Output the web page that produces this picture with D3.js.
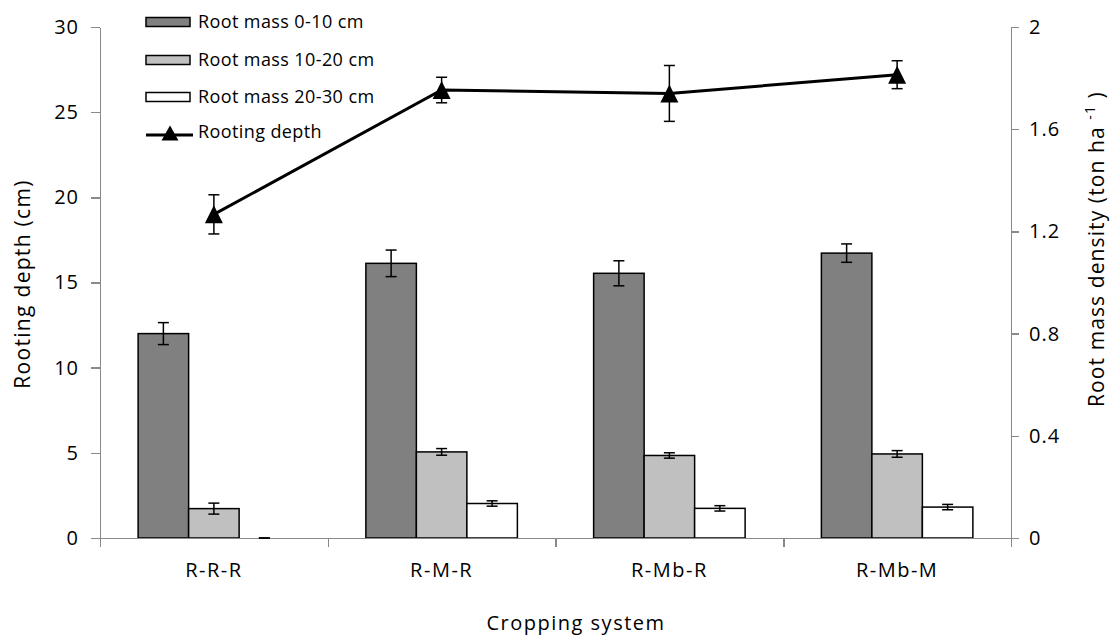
<!DOCTYPE html>
<html>
<head>
<meta charset="utf-8">
<script src="https://cdn.jsdelivr.net/npm/d3@7"></script>
<style>
  html, body { margin: 0; padding: 0; background: #fff; }
  svg { display: block; font-family: "Open Sans", sans-serif; }
  .axis path, .axis line { stroke: #898989; stroke-width: 1.5px; shape-rendering: crispEdges; }
  .axis text { fill: #000; font-size: 20px; font-family: "Open Sans", sans-serif; }
</style>
</head>
<body>
<svg id="chart" width="1112" height="636"></svg>
<script>
// Cropping systems on the x axis
const categories = ["R-R-R", "R-M-R", "R-Mb-R", "R-Mb-M"];

// Root mass density by soil layer (ton ha-1), right axis, with error bars
const rootMass0to10 = [0.80, 1.075, 1.036, 1.115];
const rootMass0to10Err = [0.043, 0.052, 0.049, 0.036];
const rootMass10to20 = [0.115, 0.337, 0.323, 0.329];
const rootMass10to20Err = [0.0215, 0.013, 0.0105, 0.013];
const rootMass20to30 = [0, 0.135, 0.116, 0.121];
const rootMass20to30Err = [0, 0.0105, 0.0105, 0.0105];

// Rooting depth (cm), left axis, with error bars
const rootingDepth = [19.0, 26.3, 26.1, 27.2];
const rootingDepthErr = [1.15, 0.75, 1.64, 0.82];

// Axis ticks
const leftTicks = [0, 5, 10, 15, 20, 25, 30];
const rightTicks = [0, 0.4, 0.8, 1.2, 1.6, 2];

const seriesNames = ["Root mass 0-10 cm", "Root mass 10-20 cm", "Root mass 20-30 cm"];
const seriesValues = [rootMass0to10, rootMass10to20, rootMass20to30];
const seriesErrors = [rootMass0to10Err, rootMass10to20Err, rootMass20to30Err];
const seriesFills = ["#808080", "#c0c0c0", "#ffffff"];

const svg = d3.select("#chart");
const plotLeft = 100, plotRight = 1011, plotTop = 27, plotBottom = 538;

const x = d3.scaleBand().domain(categories).range([plotLeft, plotRight]).padding(0);
const xBound = d3.scaleLinear().domain([0, categories.length]).range([plotLeft, plotRight]);
const xInner = d3.scaleBand().domain(seriesNames).range([0, x.bandwidth()])
  .paddingInner(0).paddingOuter(0.755);
const yL = d3.scaleLinear().domain([0, 30]).range([plotBottom, plotTop]);
const yR = d3.scaleLinear().domain([0, 2]).range([plotBottom, plotTop]);

// Bars with error bars (right axis)
const barRows = [];
categories.forEach((c, i) => {
  seriesNames.forEach((s, k) => {
    barRows.push({ cat: c, series: s, value: seriesValues[k][i], err: seriesErrors[k][i], fill: seriesFills[k] });
  });
});

const bars = svg.append("g");
bars.selectAll("rect").data(barRows.filter(d => d.value > 0)).join("rect")
  .attr("x", d => x(d.cat) + xInner(d.series))
  .attr("y", d => yR(d.value))
  .attr("width", xInner.bandwidth())
  .attr("height", d => yR(0) - yR(d.value))
  .attr("fill", d => d.fill)
  .attr("stroke", "#000")
  .attr("stroke-width", 1.5);

// Axes
svg.append("g").attr("class", "axis").attr("transform", `translate(0,${plotBottom})`)
  .call(d3.axisBottom(xBound).tickValues(d3.range(categories.length + 1)).tickSize(9).tickSizeOuter(0).tickFormat(""));

svg.append("g").attr("class", "axis").attr("transform", `translate(0,${plotBottom})`)
  .call(d3.axisBottom(x).tickSize(0).tickPadding(32))
  .call(g => g.select(".domain").remove())
  .selectAll("text").attr("letter-spacing", "1.5px").attr("dy", "0.35em");

svg.append("g").attr("class", "axis").attr("transform", `translate(${plotLeft},0)`)
  .call(d3.axisLeft(yL).tickValues(leftTicks).tickSize(9).tickSizeOuter(0).tickPadding(12))
  .selectAll("text").attr("letter-spacing", "1px");

svg.append("g").attr("class", "axis").attr("transform", `translate(${plotRight},0)`)
  .call(d3.axisRight(yR).tickValues(rightTicks).tickSize(8).tickSizeOuter(0).tickPadding(10).tickFormat(d3.format("")))
  .selectAll("text").attr("letter-spacing", "1px");

// Error bars for root mass
const capW = 11;
const errG = svg.append("g").attr("stroke", "#000").attr("stroke-width", 1.5).attr("fill", "none");
barRows.forEach(d => {
  const cx = x(d.cat) + xInner(d.series) + xInner.bandwidth() / 2;
  const y1 = yR(d.value + d.err), y0 = yR(d.value - d.err);
  errG.append("line").attr("x1", cx).attr("x2", cx).attr("y1", y1).attr("y2", y0);
  errG.append("line").attr("x1", cx - capW / 2).attr("x2", cx + capW / 2).attr("y1", y1).attr("y2", y1);
  errG.append("line").attr("x1", cx - capW / 2).attr("x2", cx + capW / 2).attr("y1", y0).attr("y2", y0);
});

// Rooting depth line (left axis)
const depthPts = categories.map((c, i) => ({ cat: c, value: rootingDepth[i], err: rootingDepthErr[i] }));
const cxOf = d => x(d.cat) + x.bandwidth() / 2;
svg.append("path").datum(depthPts)
  .attr("fill", "none").attr("stroke", "#000").attr("stroke-width", 3)
  .attr("d", d3.line().x(cxOf).y(d => yL(d.value)));

const lineErr = svg.append("g").attr("stroke", "#000").attr("stroke-width", 1.5);
depthPts.forEach(d => {
  const cx = cxOf(d), y1 = yL(d.value + d.err), y0 = yL(d.value - d.err);
  lineErr.append("line").attr("x1", cx).attr("x2", cx).attr("y1", y1).attr("y2", y0);
  lineErr.append("line").attr("x1", cx - capW / 2).attr("x2", cx + capW / 2).attr("y1", y1).attr("y2", y1);
  lineErr.append("line").attr("x1", cx - capW / 2).attr("x2", cx + capW / 2).attr("y1", y0).attr("y2", y0);
});

const tri = (w, h) => `M0,${-h / 2}L${w / 2},${h / 2}L${-w / 2},${h / 2}Z`;
svg.append("g").selectAll("path").data(depthPts).join("path")
  .attr("d", tri(18, 18))
  .attr("transform", d => `translate(${cxOf(d)},${yL(d.value)})`)
  .attr("fill", "#000");

// Legend
const legend = svg.append("g");
const rowsY = [22, 60, 97, 132];
seriesNames.forEach((s, k) => {
  legend.append("rect").attr("x", 146).attr("y", rowsY[k] - 4.5).attr("width", 44).attr("height", 9)
    .attr("fill", seriesFills[k]).attr("stroke", "#000").attr("stroke-width", 1.5);
  legend.append("text").attr("x", 198).attr("y", rowsY[k]).attr("dy", "0.35em")
    .attr("font-size", 18).attr("letter-spacing", "0.4px").text(s);
});
legend.append("line").attr("x1", 146).attr("x2", 193).attr("y1", rowsY[3] + 3).attr("y2", rowsY[3] + 3)
  .attr("stroke", "#000").attr("stroke-width", 3);
legend.append("path").attr("d", tri(17, 15)).attr("transform", `translate(170,${rowsY[3] + 1})`).attr("fill", "#000");
legend.append("text").attr("x", 198).attr("y", rowsY[3]).attr("dy", "0.35em")
  .attr("font-size", 18).attr("letter-spacing", "0.4px").text("Rooting depth");

// Axis titles
svg.append("text").attr("transform", "translate(30,284) rotate(-90)")
  .attr("text-anchor", "middle").attr("font-size", 21).attr("letter-spacing", "1.3px")
  .text("Rooting depth (cm)");

const rt = svg.append("text").attr("transform", "translate(1104,407) rotate(-90)")
  .attr("text-anchor", "start").attr("font-size", 21).attr("letter-spacing", "1.1px");
rt.append("tspan").text("Root mass density (ton ha ");
rt.append("tspan").attr("font-size", 14).attr("dy", -9).text("-1");
rt.append("tspan").attr("dy", 9).text(" )");

svg.append("text").attr("x", 576).attr("y", 630).attr("text-anchor", "middle")
  .attr("font-size", 20).attr("letter-spacing", "1.5px").text("Cropping system");
</script>
</body>
</html>
